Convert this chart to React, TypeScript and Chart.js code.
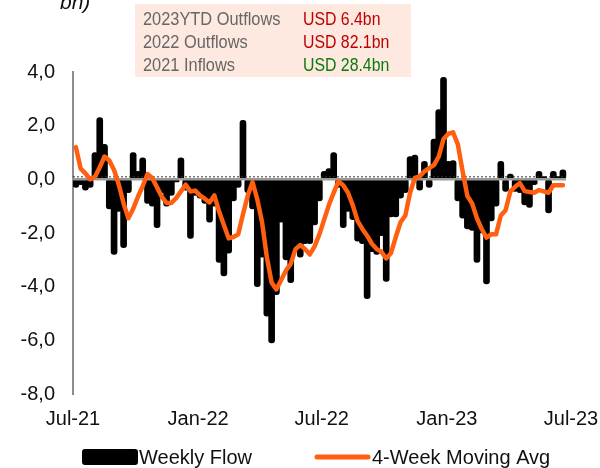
import React, { useEffect, useRef } from "react";
import { Chart, registerables } from "chart.js";

Chart.register(...registerables);

// Weekly flows (USD bn), one value per week from Jul-21
const weeklyFlow = [
  -0.3, -0.2, -0.4, -0.3, 1.0, 2.3, 1.3, -1.1, -2.8, -1.2,
  -2.55, -0.5, 1.0, 0.3, 0.8, -0.9, -1.0, -1.8, -0.5, -1.0,
  -0.6, -0.1, 0.8, -0.4, -2.2, -0.6, -0.7, -0.9, -1.6, -1.0,
  -3.1, -3.6, -2.75, -0.8, -0.3, 2.2, -0.5, -1.1, -4.0, -2.9,
  -5.1, -6.1, -4.3, -1.6, -3.0, -3.85, -2.6, -2.9, -2.4, -2.4,
  -1.7, -0.8, 0.3, 0.4, 1.0, -0.3, -1.8, -1.2, -1.5, -2.3,
  -2.4, -4.45, -2.7, -2.8, -2.1, -3.8, -1.4, -1.4, -0.7, -0.5,
  0.85, 0.9, -0.4, 0.67, -0.3, 1.5, 2.6, 3.8, 0.67, 0.7,
  -0.8, -1.45, -1.85, -1.9, -3.1, -2.0, -3.9, -1.55, -1.0, 0.67,
  -0.45, 0.2, -0.45, -0.5, -0.95, -1.05, -0.2, 0.3, 0.1, -1.25,
  0.3, 0.1, 0.35,
];

// 4-week moving average (USD bn)
const movingAvg = [
  1.2, 0.4, 0.22, 0.0, 0.1, 0.45, 0.85, 0.7, 0.35, -0.2,
  -0.9, -1.45, -1.1, -0.65, -0.25, 0.2, 0.05, -0.3, -0.65, -0.88,
  -0.88, -0.7, -0.45, -0.2, -0.45, -0.42, -0.6, -0.72, -0.86, -0.6,
  -1.2, -1.7, -2.2, -2.15, -2.05, -1.3, -0.6, -0.1, -0.75, -1.6,
  -2.9, -3.85, -4.1, -3.75, -3.4, -3.15, -2.6, -2.45, -2.6, -2.8,
  -2.5, -2.05, -1.5, -0.95, -0.5, -0.08, -0.22, -0.5, -0.97, -1.55,
  -1.85, -2.1, -2.4, -2.6, -2.7, -2.95, -2.75, -2.15, -1.6, -1.35,
  -0.5, 0.05, 0.11, 0.3, 0.42, 0.53, 0.85, 1.5, 1.7, 1.75,
  1.3, 0.3, -0.62, -0.9, -1.45, -1.85, -2.17, -2.05, -2.05, -1.35,
  -1.15, -0.45, -0.28, -0.14, -0.44, -0.47, -0.5, -0.4, -0.45, -0.5,
  -0.22, -0.22, -0.22,
];

const weekOffset = 0.6;
const xTickWeeks = [0, 26.2, 52.1, 78.3, 104.3];
const xTickLabels = ["Jul-21", "Jan-22", "Jul-22", "Jan-23", "Jul-23"];
const yMin = -8;
const yMax = 4;
const yStep = 2;

const summaryLabels = ["2023YTD Outflows", "2022 Outflows", "2021 Inflows"];
const summaryValues = ["USD 6.4bn", "USD 82.1bn", "USD 28.4bn"];
const summaryColors = ["#c00000", "#c00000", "#0a7a0a"];

const seriesNames = ["Weekly Flow", "4-Week Moving Avg"];
const barColor = "#000000";
const lineColor = "#ff5f0f";

const FONT = "'Liberation Sans', Arial, sans-serif";

export default function App() {
  const ref = useRef<HTMLCanvasElement | null>(null);

  useEffect(() => {
    document.body.style.margin = "0";
    const canvas = ref.current!;

    const zeroLine = {
      id: "zeroLine",
      beforeDatasetDraw(chart: any, args: any) {
        if (args.index !== 1) return;
        const { ctx, chartArea, scales } = chart;
        const y = scales.y.getPixelForValue(0);
        ctx.save();
        ctx.strokeStyle = "#9a9a9a";
        ctx.lineWidth = 2.5;
        ctx.beginPath();
        ctx.moveTo(chartArea.left, y);
        ctx.lineTo(chartArea.right - 5, y);
        ctx.stroke();
        ctx.strokeStyle = "#333";
        ctx.lineWidth = 1;
        ctx.setLineDash([2, 2]);
        ctx.beginPath();
        ctx.moveTo(chartArea.left, y - 2.5);
        ctx.lineTo(chartArea.right - 5, y - 2.5);
        ctx.stroke();
        ctx.restore();
      },
    };

    const decor = {
      id: "decor",
      afterDraw(chart: any) {
        const { ctx } = chart;
        ctx.save();
        // cut-off unit title
        ctx.fillStyle = "#111";
        ctx.font = `italic 21px ${FONT}`;
        ctx.textBaseline = "alphabetic";
        ctx.textAlign = "left";
        ctx.fillText("bn)", 60, 9);

        // summary box
        ctx.fillStyle = "#fde9df";
        ctx.fillRect(135, 4, 276, 73);
        ctx.font = `18px ${FONT}`;
        ctx.textBaseline = "middle";
        const rows = [20, 43, 66];
        summaryLabels.forEach((t, i) => {
          ctx.fillStyle = "#666666";
          const w = ctx.measureText(t).width;
          ctx.fillText(t, 143, rows[i], w * 0.91);
          ctx.fillStyle = summaryColors[i];
          const v = summaryValues[i];
          const w2 = ctx.measureText(v).width;
          ctx.fillText(v, 303, rows[i], w2 * 0.88);
        });

        // legend
        const ly = 457;
        ctx.fillStyle = barColor;
        ctx.beginPath();
        (ctx as any).roundRect(82, 449, 56, 16, 3);
        ctx.fill();
        ctx.font = `20px ${FONT}`;
        ctx.fillStyle = "#111";
        ctx.textBaseline = "middle";
        ctx.fillText(seriesNames[0], 139, ly + 1);
        ctx.strokeStyle = lineColor;
        ctx.lineWidth = 5;
        ctx.lineCap = "round";
        ctx.beginPath();
        ctx.moveTo(317, ly);
        ctx.lineTo(368, ly);
        ctx.stroke();
        ctx.fillText(seriesNames[1], 372, ly + 1);
        ctx.restore();
      },
    };

    const chart = new Chart(canvas, {
      type: "bar",
      data: {
        datasets: [
          {
            type: "bar",
            label: seriesNames[0],
            data: weeklyFlow.map((v, i) => ({ x: i + weekOffset, y: v })),
            backgroundColor: barColor,
            barThickness: 6,
            borderRadius: 3,
            borderSkipped: false,
            order: 2,
          } as any,
          {
            type: "line",
            label: seriesNames[1],
            data: movingAvg.map((v, i) => ({ x: i + weekOffset, y: v })),
            borderColor: lineColor,
            borderWidth: 4.5,
            pointRadius: 0,
            tension: 0,
            borderJoinStyle: "round",
            borderCapStyle: "round",
            order: 1,
          } as any,
        ],
      },
      options: {
        responsive: false,
        animation: false,
        devicePixelRatio: 1,
        layout: { padding: { top: 72, right: 29, bottom: 0, left: 0 } },
        plugins: {
          legend: { display: false },
          tooltip: { enabled: false },
        },
        scales: {
          x: {
            type: "linear",
            min: 0,
            max: xTickWeeks[xTickWeeks.length - 1],
            offset: false,
            grid: {
              display: true,
              drawOnChartArea: false,
              drawTicks: true,
              tickLength: 12,
              color: "rgba(0,0,0,0)",
            },
            border: { display: false },
            afterBuildTicks: (scale: any) => {
              scale.ticks = xTickWeeks.map((v) => ({ value: v }));
            },
            afterFit: (scale: any) => {
              scale.height = 74;
            },
            ticks: {
              autoSkip: false,
              maxRotation: 0,
              padding: 1,
              color: "#111",
              font: { family: FONT, size: 20 },
              callback: (_v: any, i: number) => xTickLabels[i],
            },
          },
          y: {
            type: "linear",
            min: yMin,
            max: yMax,
            grid: { display: false, drawTicks: false },
            border: { display: true, color: "#8c8c8c", width: 2 },
            afterFit: (scale: any) => {
              scale.width = 73;
            },
            ticks: {
              stepSize: yStep,
              padding: 18,
              color: "#111",
              font: { family: FONT, size: 20 },
              callback: (v: any) => Number(v).toFixed(1).replace(".", ","),
            },
          },
        },
      },
      plugins: [zeroLine, decor],
    });

    return () => chart.destroy();
  }, []);

  return (
    <div style={{ position: "absolute", left: 0, top: 0, width: 600, height: 468 }}>
      <canvas ref={ref} width={600} height={468} />
    </div>
  );
}
